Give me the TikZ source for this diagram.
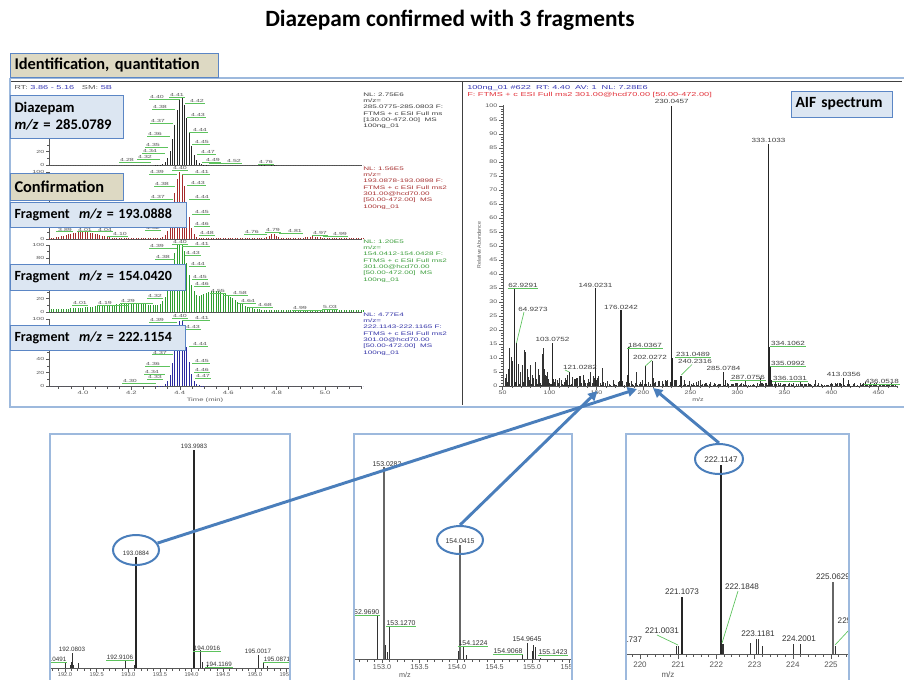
\documentclass[tikz,border=0pt]{standalone}
\usepackage{fontspec}
\setmainfont{Carlito}
\newfontfamily\chA[FakeStretch=1.6]{Liberation Sans}
\newfontfamily\chB[FakeStretch=1.35]{Liberation Sans}
\newfontfamily\chC{Liberation Sans}
\usetikzlibrary{arrows.meta,shapes.geometric}
\definecolor{boxblue}{HTML}{DCE6F2}
\definecolor{boxedge}{HTML}{5B86C5}
\definecolor{tanfill}{HTML}{DDD9C3}
\definecolor{frameblue}{HTML}{9DB9DD}
\definecolor{arrblue}{HTML}{4A7EBB}
\definecolor{leadgreen}{HTML}{5DC35D}
\definecolor{tred}{HTML}{A52A2A}
\definecolor{tgreen}{HTML}{2E9E2E}
\definecolor{tblue}{HTML}{2B2BA0}
\definecolor{hdrred}{HTML}{E3343C}
\definecolor{hdrblue}{HTML}{3838B4}
\definecolor{txtgray}{HTML}{585858}
\definecolor{nlgray}{HTML}{3C3C3C}
\definecolor{nlred}{HTML}{A83232}
\definecolor{nlgreen}{HTML}{3C9E3C}
\definecolor{nlblue}{HTML}{3434A8}
\newcount\pkn
\pgfmathdeclarefunction{gs}{3}{\pgfmathparse{exp(max(-9,-0.5*((#1-#2)/#3)^2))}}
\tikzset{
 ax/.style={draw=txtgray, line width=0.45pt},
 pk/.style={font=\chA\fontsize{3.3}{3.6}\selectfont, text=txtgray, inner sep=0.35pt},
 gl/.style={draw=leadgreen, line width=0.5pt},
 ytl/.style={anchor=east, font=\chA\fontsize{3.3}{3.6}\selectfont, text=txtgray, inner sep=0.4pt},
 tml/.style={font=\chA\fontsize{3.6}{4}\selectfont, text=txtgray, inner sep=0.4pt},
 nl/.style={anchor=north west, align=left, inner sep=0pt, font=\chA\fontsize{3.8}{4.75}\selectfont},
 tb/.style={anchor=west, draw=boxedge, line width=0.75pt, inner xsep=3pt, inner ysep=0pt, align=left, font=\bfseries\fontsize{11}{12.75}\selectfont},
 bar/.style={line width=0.75pt},
 sb/.style={draw=black!85, line width=0.8pt},
 nb/.style={draw=black!80, line width=0.6pt},
 al/.style={font=\chB\fontsize{4.5}{5}\selectfont, text=black!75, inner sep=0.35pt},
 ayl/.style={anchor=east, font=\chB\fontsize{3.9}{4.2}\selectfont, text=txtgray, inner sep=0.4pt},
 hdr/.style={anchor=west, font=\chA\fontsize{4.3}{5}\selectfont, inner sep=0pt},
 frame/.style={draw=frameblue, line width=0.9pt},
 p1/.style={font=\chC\fontsize{4.7}{5}\selectfont, text=black!80, inner sep=0.35pt},
 p2/.style={font=\chC\fontsize{5.2}{5.6}\selectfont, text=black!80, inner sep=0.35pt},
 p3/.style={font=\chC\fontsize{6.1}{6.6}\selectfont, text=black!80, inner sep=0.35pt},
 t1/.style={font=\chC\fontsize{4.2}{4.6}\selectfont, text=txtgray, inner sep=0.3pt},
 t2/.style={font=\chC\fontsize{5.4}{5.8}\selectfont, text=txtgray, inner sep=0.3pt},
 t3/.style={font=\chC\fontsize{6}{6.4}\selectfont, text=txtgray, inner sep=0.3pt},
 ell/.style={ellipse, draw=arrblue, line width=1.5pt, inner sep=0pt},
 arr/.style={draw=arrblue, line width=2.2pt, -{Triangle[length=7pt,width=7pt]}}
}
\newcommand\ck[3]{\global\advance\pkn by 1\relax
 \pgfmathsetmacro\pkx{83+(#3-4)*242}%
 \node[pk] (pk\the\pkn) at (#1,#2) {#3};
 \draw[gl] (pk\the\pkn.south west) -- (pk\the\pkn.south east);
 \draw[gl] (pk\the\pkn.south) -- (pk\the\pkn.south -| \pkx,0);}
\newcommand\ul[3]{\global\advance\pkn by 1\relax
 \node[#1] (u\the\pkn) at #2 {#3};
 \draw[gl] (u\the\pkn.south west) -- (u\the\pkn.south east);}
\begin{document}
\begin{tikzpicture}[x=0.75pt,y=-0.75pt]
\useasboundingbox (0,0) rectangle (905,679);
\fill[white] (0,0) rectangle (905,679);
% title
\node[font=\bfseries\fontsize{17.5}{20}\selectfont] (title) at (450,20) {Diazepam confirmed with 3 fragments};
% top frame
\draw[frame,line width=1.1pt] (10,78) -- (904,78);
\draw[frame,line width=1.1pt] (10,78) -- (10,407) -- (904,407);
\draw[black!75, line width=0.5pt] (11,81.5) -- (902,81.5);
\draw[black!75, line width=0.6pt] (462.5,81.5) -- (462.5,405);
% ===== chromatograms =====
\node[hdr] (rt) at (14,88) {\textcolor{txtgray}{RT:} \textcolor{hdrblue}{3.86 - 5.16}\ \ \ \textcolor{txtgray}{SM:} \textcolor{hdrblue}{5B}};
\foreach \b in {165,239,312,386}{
  \draw[ax] (49,\b-67) -- (49,\b) -- (362,\b);
  \foreach \v in {0,10,...,100}{\draw[ax] (49,\b-0.67*\v) -- ++(-2,0);}
  \foreach \v in {0,20,...,100}{\draw[ax] (49,\b-0.67*\v) -- ++(-3.5,0);}
}
\foreach \b/\v in {165/0,165/20,165/40,239/0,239/100,312/0,312/20,312/80,312/100,386/0,386/20,386/40,386/100}{
  \node[ytl] (y\b-\v) at (45,\b-0.67*\v) {\v};}
\foreach \k in {0,...,25}{\draw[ax] ({83+(3.9+0.05*\k-4)*242},386) -- ++(0,2.5);}
\foreach \v [count=\c] in {4.0,4.2,4.4,4.6,4.8,5.0}{
  \draw[ax] ({83+(\v-4)*242},386) -- ++(0,4);
  \node[tml] (tx\c) at ({83+(\v-4)*242},393) {\v};}
\node[tml] (tlab) at (205,400) {Time (min)};
\foreach \i in {0,...,130}{
 \pgfmathsetmacro\tm{3.86+0.01*\i}
 \pgfmathsetmacro\xx{83+(\tm-4)*242}
 \pgfmathsetmacro\ha{100*gs(\tm,4.407,0.027)+2*gs(\tm,4.765,0.01)}
 \pgfmathsetmacro\hb{min(100,100*gs(\tm,4.402,0.025)+10*gs(\tm,4.0,0.06)+7*gs(\tm,4.785,0.015)+3*gs(\tm,4.95,0.03)+0.8)}
 \pgfmathsetmacro\hc{min(100,100*gs(\tm,4.40,0.03)+28*gs(\tm,4.55,0.07)+9*gs(\tm,4.2,0.15)+3)}
 \pgfmathsetmacro\hd{100*gs(\tm,4.405,0.024)}
 \draw[bar,draw=black!85] (\xx,165) -- ++(0,-0.67*\ha);
 \draw[bar,draw=tred] (\xx,239) -- ++(0,-0.67*\hb);
 \draw[bar,draw=tgreen] (\xx,312) -- ++(0,-0.67*\hc);
 \draw[bar,draw=tblue] (\xx,386) -- ++(0,-0.67*\hd);
}
% trace 1 labels
\ck{157}{97}{4.40}\ck{177}{95}{4.41}\ck{197}{101}{4.42}\ck{160}{107}{4.38}\ck{198}{115}{4.43}
\ck{158}{121}{4.37}\ck{200}{130}{4.44}\ck{155}{134}{4.36}\ck{202}{142}{4.45}\ck{153}{145}{4.35}
\ck{150}{151}{4.34}\ck{208}{152}{4.47}\ck{145}{157}{4.32}\ck{213}{160}{4.49}\ck{127}{160}{4.28}
\ck{234}{161}{4.52}\ck{266}{162}{4.76}
% trace 2 labels
\ck{157}{172}{4.39}\ck{180}{168}{4.40}\ck{202}{172}{4.41}\ck{162}{184}{4.38}\ck{198}{183}{4.43}
\ck{158}{197}{4.37}\ck{202}{197}{4.44}\ck{202}{212}{4.45}\ck{153}{228}{4.32}\ck{202}{224}{4.46}
\ck{207}{233}{4.48}\ck{120}{234}{4.10}\ck{65}{229.5}{3.89}\ck{85}{229.5}{4.01}\ck{105}{229.5}{4.04}
\ck{252}{232}{4.76}\ck{273}{230}{4.79}\ck{295}{231}{4.81}\ck{320}{233}{4.97}\ck{340}{234}{4.99}
% trace 3 labels
\ck{157}{246}{4.39}\ck{180}{242}{4.40}\ck{202}{244}{4.41}\ck{163}{257}{4.38}\ck{193}{253}{4.43}
\ck{198}{264}{4.44}\ck{200}{277}{4.45}\ck{202}{284}{4.46}\ck{218}{291}{4.55}\ck{240}{293}{4.58}
\ck{248}{301}{4.64}\ck{265}{305}{4.68}\ck{300}{308}{4.99}\ck{330}{307}{5.03}\ck{155}{296}{4.32}
\ck{128}{301}{4.29}\ck{105}{303}{4.19}\ck{80}{303}{4.01}
% trace 4 labels
\ck{157}{320}{4.39}\ck{180}{316}{4.40}\ck{202}{318}{4.41}\ck{193}{327}{4.43}\ck{200}{344}{4.44}
\ck{160}{352.5}{4.37}\ck{153}{364}{4.36}\ck{202}{361}{4.45}\ck{152}{372}{4.34}\ck{202}{370}{4.46}
\ck{155}{377}{4.33}\ck{203}{376}{4.47}\ck{130}{381}{4.30}
% NL blocks
\node[nl,text=nlgray] (nl1) at (363,92.5) {NL: 2.75E6\\m/z=\\285.0775-285.0803 F:\\FTMS + c ESI Full ms\\{[}130.00-472.00{]}\ \ MS\\100ng\_01};
\node[nl,text=nlred] (nl2) at (363,166.5) {NL: 1.56E5\\m/z=\\193.0878-193.0898 F:\\FTMS + c ESI Full ms2\\301.00@hcd70.00\\{[}50.00-472.00{]}\ \ MS\\100ng\_01};
\node[nl,text=nlgreen] (nl3) at (363,239.5) {NL: 1.20E5\\m/z=\\154.0412-154.0428 F:\\FTMS + c ESI Full ms2\\301.00@hcd70.00\\{[}50.00-472.00{]}\ \ MS\\100ng\_01};
\node[nl,text=nlblue] (nl4) at (363,312.5) {NL: 4.77E4\\m/z=\\222.1143-222.1165 F:\\FTMS + c ESI Full ms2\\301.00@hcd70.00\\{[}50.00-472.00{]}\ \ MS\\100ng\_01};
% boxes
\node[tb,fill=tanfill,text width=150pt,minimum height=18pt,inner xsep=3pt,font=\bfseries\fontsize{12.3}{14}\selectfont] (ident) at (10,65) {Identification, quantitation};
\node[tb,fill=boxblue,text width=78.75pt,inner xsep=3pt,minimum height=32.25pt] (bdz) at (10,116.5) {Diazepam\\\textit{m/z} = 285.0789};
\node[tb,fill=tanfill,text width=78.75pt,minimum height=20.25pt,font=\bfseries\fontsize{12.3}{14}\selectfont] (bconf) at (10,186.5) {Confirmation};
\node[tb,fill=boxblue,text width=126pt,minimum height=18.75pt,font=\bfseries\fontsize{10.5}{12}\selectfont] (bf1) at (10,214.5) {Fragment\ \ \textit{m/z} = 193.0888};
\node[tb,fill=boxblue,text width=125.25pt,minimum height=19.5pt,font=\bfseries\fontsize{10.5}{12}\selectfont] (bf2) at (10,277) {Fragment\ \ \textit{m/z} = 154.0420};
\node[tb,fill=boxblue,text width=125.25pt,minimum height=18.75pt,font=\bfseries\fontsize{10.5}{12}\selectfont] (bf3) at (10,337.5) {Fragment\ \ \textit{m/z} = 222.1154};
% ===== AIF spectrum =====
\node[hdr,text=hdrblue] (h1) at (467,88) {100ng\_01 \#622\ \ RT: 4.40\ \ AV: 1\ \ NL: 7.28E6};
\node[hdr,text=hdrred] (h2) at (467,95.5) {F: FTMS + c ESI Full ms2 301.00@hcd70.00 {[}50.00-472.00{]}};
\node[tb,fill=boxblue,text width=69.75pt,minimum height=19.5pt,font=\bfseries\fontsize{11.7}{13}\selectfont] (baif) at (791,104) {AIF spectrum};
\draw[ax] (503,105) -- (503,386) -- (898,386);
\foreach \v in {0,...,100}{\draw[ax,line width=0.35pt] (503,386-2.8*\v) -- ++(-2,0);}
\foreach \v in {0,5,...,100}{\draw[ax] (503,386-2.8*\v) -- ++(-4.5,0);
  \node[ayl] (ay\v) at (498,386-2.8*\v) {\v};}
\foreach \m in {50,60,...,470}{\draw[ax] ({502.5+(\m-50)*0.94},386) -- ++(0,2.2);}
\foreach \m in {50,100,...,450}{\draw[ax] ({502.5+(\m-50)*0.94},386) -- ++(0,4);
  \node[ayl,anchor=center] (ax\m) at ({502.5+(\m-50)*0.94},393) {\m};}
\node[font=\chC\fontsize{3.9}{4.2}\selectfont,text=txtgray,rotate=90] (ra) at (479,245) {Relative Abundance};
\node[font=\chB\fontsize{3.9}{4.2}\selectfont,text=txtgray] (mz0) at (698,400) {m/z};
\pgfmathsetseed{11}
\foreach \xx in {505,506.3,...,896}{
  \pgfmathsetmacro\hh{rnd*(\xx<600?4.5:(\xx<700?2.2:1.2))}
  \draw[nb] (\xx,386) -- ++(0,-2.8*\hh);}
\foreach \xx/\hh in {508/3,508.7/6,509.5/13.5,511/10.5,512/9,518/8,520/5,522/7.5,524/13,525/12,527/6,530/7.5,532/4,535/8.5,538/6,539/4,542/11.5,543/13.5,544/6,545/4,547/5,555/2.5,557/2,565/3,572/2,580/2,583/4,590/5,597/3,598/3.5,602/6.5,613/2,627/4,636/5,652/9,653/3,665/2,680/3.5,700/2,710/1.5,745/2,760/3,775/1.5,800/1.5,815/2,848/2,870/1}{
  \draw[nb] (\xx,386) -- ++(0,-2.8*\hh);}
\foreach \xx/\hh in {671.7/100,768.6/86.5,514.7/35,516.5/15.4,595.6/35,621/27,552.4/15.5,569.3/5,628.5/14,645.4/7,672.7/10,681.3/3.5,723.5/5,725.3/2,769.5/14,770.5/7,771.4/2,843.8/3,865.4/1.5}{
  \draw[sb] (\xx,386) -- ++(0,-2.8*\hh);}
\node[al] (m230) at (671.7,101.5) {230.0457};
\node[al] (m333) at (768.6,140) {333.1033};
\ul{al}{(523,285)}{62.9291}
\node[al] (m64) at (533,309) {64.9273};
\draw[gl] (524,312) -- (516.5,343);
\node[al] (m149) at (595.6,285) {149.0231};
\node[al] (m176) at (621,307) {176.0242};
\node[al] (m103) at (552.4,339) {103.0752};
\node[al] (m121) at (580,367) {121.0282};
\draw[gl] (565,370) -- (569.3,372);
\ul{al}{(645,345)}{184.0367}
\draw[gl] (628.5,347.5) -- (630,347.5);
\node[al] (m202) at (650,357) {202.0272};
\draw[gl] (645.4,366) -- (652,360);
\ul{al}{(693,354)}{231.0489}
\node[al] (m240) at (695,361.5) {240.2316};
\draw[gl] (681.3,375) -- (692,364.5);
\node[al] (m285) at (723.5,368) {285.0784};
\ul{al}{(748,377)}{287.0756}
\ul{al}{(788,343)}{334.1062}
\ul{al}{(788,363)}{335.0992}
\ul{al}{(790,378)}{336.1031}
\node[al] (m413) at (843.8,374) {413.0356};
\ul{al}{(882,381)}{436.0518}
% ===== bottom panel 1 =====
\begin{scope}
\clip (50,434) rectangle (290,679);
\draw[ax] (50,668) -- (290,668);
\foreach \k in {-2,...,37}{\draw[ax] ({65+\k*6.33},668) -- ++(0,2.5);}
\foreach \k/\lab in {0/192.0,1/192.5,2/193.0,3/193.5,4/194.0,5/194.5,6/195.0,7/195.5}{
  \draw[ax] ({65+\k*31.65},668) -- ++(0,4);
  \node[t1] (q1\k) at ({65+\k*31.65},674.5) {\lab};}
\foreach \xx/\yy in {65/663,70/665,71/662,72/653,73/665,78/663,125/660,134/665,200/650,202/662,207/665,258/655,263/662,267/666}{
  \draw[nb] (\xx,668) -- (\xx,\yy);}
\draw[sb] (194,668) -- (194,450);
\draw[sb] (136,668) -- (136,557);
\node[p1] (r1a) at (194,446) {193.9983};
\node[p1] (r1b) at (136,553.5) {193.0884};
\node[p1] (r1c) at (72,649.5) {192.0803};
\ul{p1}{(120,657)}{192.9106}
\ul{p1}{(207,648)}{194.0916}
\ul{p1}{(219,664)}{194.1169}
\node[p1] (r1d) at (258,651.5) {195.0017};
\ul{p1}{(277,659.5)}{195.0871}
\ul{p1,anchor=east}{(67,659)}{192.0491}
\end{scope}
\draw[frame] (50,681) -- (50,434) -- (290,434) -- (290,681);
% ===== bottom panel 2 =====
\begin{scope}
\clip (354,434) rectangle (572,681);
\draw[ax] (354,659) -- (572,659);
\foreach \k in {-4,...,25}{\draw[ax] ({382+\k*7.5},659) -- ++(0,2.5);}
\foreach \k/\lab in {0/153.0,1/153.5,2/154.0,3/154.5,4/155.0,5/155.5}{
  \draw[ax] ({382+\k*37.5},659) -- ++(0,4);
  \node[t2] (q2\k) at ({382+\k*37.5},667.5) {\lab};}
\foreach \xx/\yy in {377/615,389/627,385/645,387/652,458/651,459/648,463/647,466/655,522/654,527/643,532/651,533/645,535/647,540/658}{
  \draw[nb] (\xx,659) -- (\xx,\yy);}
\draw[sb,draw=black!60] (384,659) -- (384,467);
\draw[sb,draw=black!60] (460,659) -- (460,545);
\node[p2] (r2a) at (387,464.5) {153.0282};
\node[p2] (r2b) at (460,541) {154.0415};
\ul{p2,anchor=east}{(380,612.5)}{152.9690}
\ul{p2}{(401,623)}{153.1270}
\ul{p2}{(473,643)}{154.1224}
\ul{p2}{(508,651)}{154.9068}
\node[p2] (r2c) at (527,639) {154.9645};
\ul{p2}{(553,652)}{155.1423}
\node[t2] (mz2) at (405,675) {m/z};
\end{scope}
\draw[frame] (354,681) -- (354,434) -- (572,434) -- (572,681);
% ===== bottom panel 3 =====
\begin{scope}
\clip (626,434) rectangle (849,681);
\draw[ax] (626,654) -- (849,654);
\foreach \k in {-2,...,29}{\draw[ax] ({640+\k*7.64},654) -- ++(0,2.5);}
\foreach \k in {0,...,5}{
  \draw[ax] ({640+\k*38.2},654) -- ++(0,4.5);
  \pgfmathtruncatemacro\lab{220+\k}
  \node[t3] (q3\k) at ({640+\k*38.2},665) {\lab};}
\node[t3] (mz3) at (668,675) {m/z};
\foreach \xx/\yy in {676/646,678/646,722/644,723/644,750/643,756/639,758/639,762/646,793/644,800/644,832/600,835/646}{
  \draw[nb] (\xx,654) -- (\xx,\yy);}
\draw[sb] (721,654) -- (721,465);
\draw[sb] (682,654) -- (682,597);
\draw[sb,draw=black!60] (833,654) -- (833,582);
\node[p3] (r3a) at (721,460) {222.1147};
\node[p3] (r3b) at (682,592) {221.1073};
\node[p3] (r3c) at (742,587) {222.1848};
\draw[gl] (738,591) -- (722,643);
\node[p3] (r3d) at (662,631) {221.0031};
\draw[gl] (657,635) -- (678,645);
\node[p3,anchor=east] (r3e) at (643,640) {220.1737};
\node[p3] (r3f) at (758,634) {223.1181};
\node[p3] (r3g) at (799,639) {224.2001};
\node[p3] (r3h) at (833,577) {225.0629};
\node[p3,anchor=west] (r3i) at (837,621) {225};
\draw[gl] (835,645) -- (849,630);
\end{scope}
\draw[frame] (626,681) -- (626,434) -- (849,434) -- (849,681);
% ===== ellipses and arrows =====
\node[ell,minimum width=34.5pt,minimum height=22.5pt] (e1) at (136,550) {};
\node[ell,minimum width=34.5pt,minimum height=21pt] (e2) at (460,540) {};
\node[ell,minimum width=36pt,minimum height=22.5pt] (e3) at (719,459) {};
\coordinate (a1) at (637,389);
\coordinate (a2) at (597.5,391);
\coordinate (a3) at (653,388);
\draw[arr] (e1) -- (a1);
\draw[arr] (e2.north) -- (a2);
\draw[arr] (e3.north) -- (a3);
\end{tikzpicture}
\end{document}
